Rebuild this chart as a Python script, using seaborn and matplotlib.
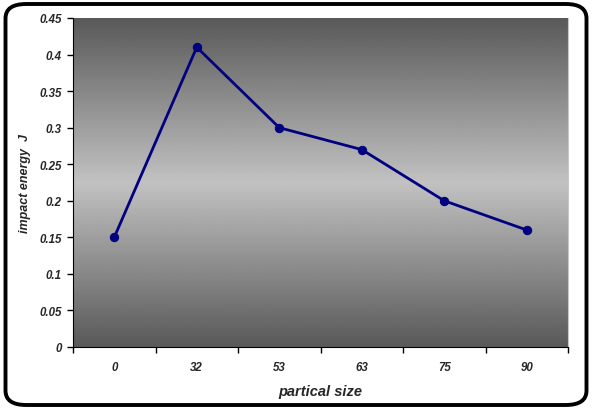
import numpy as np
import pandas as pd
import matplotlib
matplotlib.use("Agg")
import matplotlib.pyplot as plt
import seaborn as sns
from matplotlib.patches import FancyBboxPatch
from matplotlib.ticker import FixedLocator, NullFormatter, FixedFormatter

# particle size categories and impact energy (J)
sizes = ["0", "32", "53", "63", "75", "90"]
energy = [0.15, 0.41, 0.30, 0.27, 0.20, 0.16]
y_ticks = [0, 0.05, 0.1, 0.15, 0.2, 0.25, 0.3, 0.35, 0.4, 0.45]
y_labels = ["0", "0.05", "0.1", "0.15", "0.2", "0.25", "0.3", "0.35", "0.4", "0.45"]

df = pd.DataFrame({"size": sizes, "energy": energy})

sns.set_style("white")
plt.rcParams["font.family"] = ["Liberation Sans", "DejaVu Sans"]

fig = plt.figure(figsize=(5.92, 4.1), dpi=100)
ax = fig.add_axes([73 / 592, 62 / 410, 495 / 592, 329 / 410])

# grey gradient background: dark at top and bottom, light in the middle
prof = np.interp(np.linspace(0, 1, 256), [0, 0.5, 1], [0.35, 0.76, 0.35])
grad = np.repeat(prof[:, None], 2, axis=1)
ax.imshow(grad, cmap="gray", vmin=0, vmax=1, aspect="auto",
          extent=[0, 1, 0, 1], transform=ax.transAxes, zorder=0, origin="lower")

sns.lineplot(data=df, x="size", y="energy", ax=ax, sort=False, color="#000080",
             linewidth=2, marker="o", markersize=6, markeredgecolor="#000080", zorder=3)

ax.set_xlim(-0.5, len(sizes) - 0.5)
ax.set_ylim(0, 0.45)
ax.set_yticks(y_ticks)
ax.set_yticklabels(y_labels)

# ticks between categories, labels at category centers
ax.xaxis.set_major_locator(FixedLocator(np.arange(-0.5, len(sizes), 1)))
ax.xaxis.set_major_formatter(NullFormatter())
ax.xaxis.set_minor_locator(FixedLocator(np.arange(len(sizes))))
ax.xaxis.set_minor_formatter(FixedFormatter(sizes))
ax.tick_params(axis="x", which="major", direction="out", length=4, width=1, bottom=True, color="black")
ax.tick_params(axis="x", which="minor", length=0, pad=10)
ax.tick_params(axis="y", direction="out", length=4, width=1, left=True, color="black", pad=4)

for lab in ax.get_xticklabels(minor=True) + ax.get_yticklabels():
    lab.set_fontsize(8.3)
    lab.set_fontweight("bold")
    lab.set_fontstyle("italic")

ax.set_xlabel("partical size", fontsize=10.5, fontweight="bold", fontstyle="italic", labelpad=8)
ax.set_ylabel("impact energy  J", fontsize=9, fontweight="bold", fontstyle="italic", labelpad=6)

ax.spines["top"].set_visible(False)
ax.spines["right"].set_color("#c8c8c8")
ax.spines["left"].set_color("black")
ax.spines["bottom"].set_color("black")

# rounded frame around the whole chart
frame = FancyBboxPatch((5.5 / 592, 4 / 410), 581 / 592, 401 / 410,
                       boxstyle="round,pad=0,rounding_size=0.035",
                       transform=fig.transFigure, fill=False, edgecolor="black",
                       linewidth=2.8, zorder=10)
fig.patches.append(frame)

fig.savefig("out.png", dpi=100)
